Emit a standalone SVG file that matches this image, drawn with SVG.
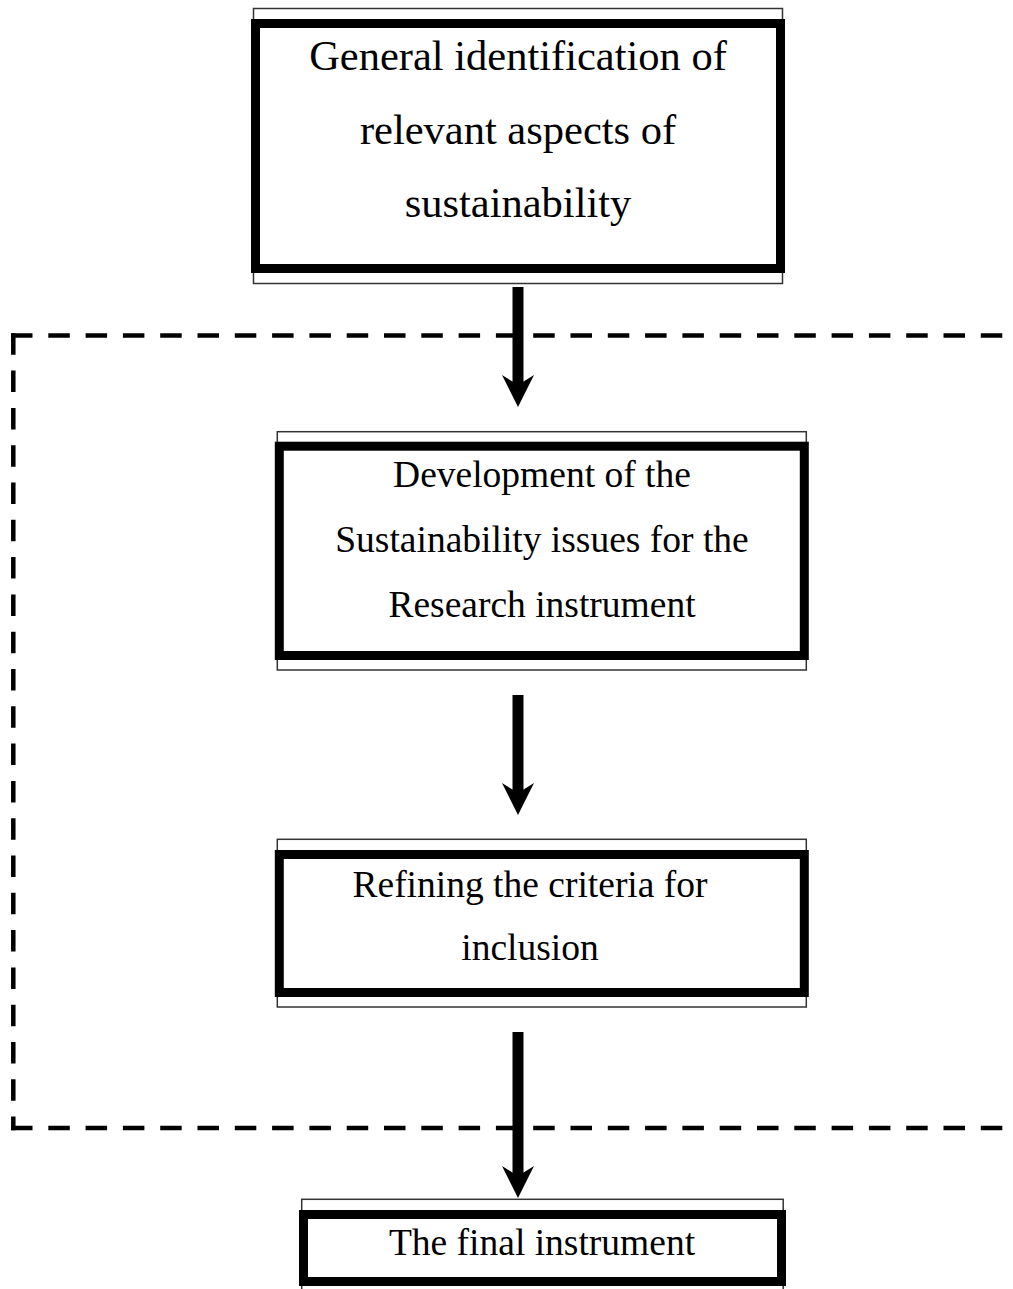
<svg xmlns="http://www.w3.org/2000/svg" width="1013" height="1289" viewBox="0 0 1013 1289">
  <defs>
    <style>
      .thin { fill: none; stroke: #333; stroke-width: 1.5; }
      .thick { fill: none; stroke: #000; stroke-width: 9; }
      .lbl { font-family: "Liberation Serif", "Times New Roman", serif; fill: #000; text-anchor: middle; }
      .big { font-size: 42.5px; }
      .mid { font-size: 37.5px; }
      .conn { stroke: #000; stroke-width: 11; fill: none; }
      .dash { stroke: #000; stroke-width: 4.5; fill: none; stroke-dasharray: 21.5 15.8; }
    </style>
    <marker id="head" markerUnits="userSpaceOnUse" markerWidth="32" markerHeight="32" viewBox="0 0 32 32" refX="12" refY="16" orient="auto">
      <path d="M0,0 L32,16 L0,32 L10,16 Z" fill="#000"/>
    </marker>
  </defs>

  <g id="boundary">
    <line class="dash" x1="11" y1="335.5" x2="1020" y2="335.5"/>
    <line class="dash" x1="13.3" y1="333.3" x2="13.3" y2="1130.3"/>
    <line class="dash" x1="11" y1="1128" x2="1020" y2="1128"/>
  </g>

  <g id="node-general">
    <rect class="thin" x="253.5" y="8.5" width="529" height="275"/>
    <rect class="thick" x="255.5" y="23.5" width="525" height="245"/>
    <text class="lbl big" x="518" y="70">General identification of</text>
    <text class="lbl big" x="518" y="143.5">relevant aspects of</text>
    <text class="lbl big" x="518" y="217">sustainability</text>
  </g>

  <g id="node-development">
    <rect class="thin" x="277.3" y="431.7" width="529" height="238.3"/>
    <rect class="thick" x="279.3" y="446.2" width="525" height="209.3"/>
    <text class="lbl mid" x="542" y="487">Development of the</text>
    <text class="lbl mid" x="542" y="552">Sustainability issues for the</text>
    <text class="lbl mid" x="542" y="617">Research instrument</text>
  </g>

  <g id="node-refining">
    <rect class="thin" x="277.3" y="839.3" width="529" height="167.7"/>
    <rect class="thick" x="279.3" y="854.5" width="525" height="138"/>
    <text class="lbl mid" x="530" y="897">Refining the criteria for</text>
    <text class="lbl mid" x="530" y="960">inclusion</text>
  </g>

  <g id="node-final">
    <rect class="thin" x="301.7" y="1199.3" width="481.5" height="100"/>
    <rect class="thick" x="303.5" y="1214.5" width="478" height="67"/>
    <text class="lbl mid" x="542" y="1255">The final instrument</text>
  </g>

  <g id="connectors">
    <line class="conn" x1="518" y1="287" x2="518" y2="387" marker-end="url(#head)"/>
    <line class="conn" x1="518" y1="695" x2="518" y2="795" marker-end="url(#head)"/>
    <line class="conn" x1="518" y1="1032" x2="518" y2="1178" marker-end="url(#head)"/>
  </g>
</svg>
